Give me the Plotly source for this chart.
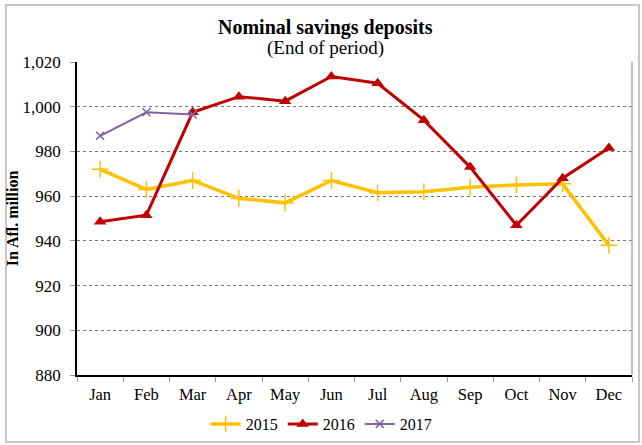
import plotly.graph_objects as go

months = ["Jan", "Feb", "Mar", "Apr", "May", "Jun", "Jul", "Aug", "Sep", "Oct", "Nov", "Dec"]
y2015 = [972, 963, 967, 959, 957, 967, 961.5, 962, 964, 965, 965.5, 938]
y2016 = [948.5, 951.5, 997.5, 1004.5, 1002.5, 1013.5, 1010.5, 994, 973, 947, 968, 981.5]
y2017 = [987, 997.5, 996.5]
yticks = [880, 900, 920, 940, 960, 980, 1000, 1020]

serif = "Liberation Serif, Times New Roman, serif"

# plot area in pixels: left 77, right 632, top 62, bottom 375
PW, PH = 555, 313

fig = go.Figure()
fig.add_trace(go.Scatter(
    x=months, y=y2015, name="2015", mode="lines+markers",
    line=dict(color="#FFC000", width=3.5),
    marker=dict(symbol="cross-thin", size=12, line=dict(color="#FFC000", width=1.5))))
fig.add_trace(go.Scatter(
    x=months, y=y2016, name="2016", mode="lines+markers",
    line=dict(color="#C00000", width=3),
    marker=dict(symbol="triangle-up", size=11, color="#C00000")))
fig.add_trace(go.Scatter(
    x=months[:len(y2017)], y=y2017, name="2017", mode="lines+markers",
    line=dict(color="#8064A2", width=2),
    marker=dict(symbol="x-thin", size=8, line=dict(color="#8064A2", width=1.5))))

fig.update_layout(
    width=642, height=445,
    margin=dict(l=77, r=10, t=62, b=70, autoexpand=False),
    paper_bgcolor="white", plot_bgcolor="white",
    font=dict(family=serif, size=16, color="black"),
    showlegend=True,
    legend=dict(orientation="h", x=0.44, xanchor="center", y=(375 - 424) / PH, yanchor="middle",
                font=dict(size=16), itemwidth=30, traceorder="normal"),
    xaxis=dict(type="category", range=[-0.5, 11.5], showline=True, linecolor="black",
               linewidth=1.5, ticks="outside", tickson="boundaries", ticklen=5,
               tickcolor="#999", showgrid=False, tickfont=dict(size=16.5),
               ticklabelstandoff=3),
    yaxis=dict(range=[880, 1020], tickvals=yticks, tickformat=",d", showline=True,
               linecolor="black", linewidth=1.5, ticks="outside", ticklen=5,
               tickcolor="#999", showgrid=True, gridcolor="#777", griddash="dot",
               gridwidth=1, zeroline=False, tickfont=dict(size=17), ticklabelstandoff=6,
               title=dict(text="<b>In Afl. million</b>", font=dict(size=16), standoff=0)),
)

# titles
fig.add_annotation(text="<b>Nominal savings deposits</b>", xref="paper", yref="paper",
                   x=(325 - 77) / PW, y=1.0 + (62 - 27) / PH, yanchor="middle", showarrow=False,
                   font=dict(size=20))
fig.add_annotation(text="(End of period)", xref="paper", yref="paper",
                   x=(325 - 77) / PW, y=1.0 + (62 - 48) / PH, yanchor="middle", showarrow=False,
                   font=dict(size=19))

# right plot border and outer chart border
fig.add_shape(type="line", xref="paper", yref="paper", x0=1, x1=1, y0=0, y1=1,
              line=dict(color="#aaa", width=1.5))
fig.add_shape(type="rect", xref="paper", yref="paper",
              x0=(6 - 77) / PW, x1=(639 - 77) / PW, y0=(375 - 442) / PH, y1=(375 - 5) / PH,
              line=dict(color="#c8c8c8", width=2))

# drop the default body margin so the figure sits at the window's corner
fig.write_html("out.html", config={"displayModeBar": False},
               post_script="document.body.style.margin='0';")
